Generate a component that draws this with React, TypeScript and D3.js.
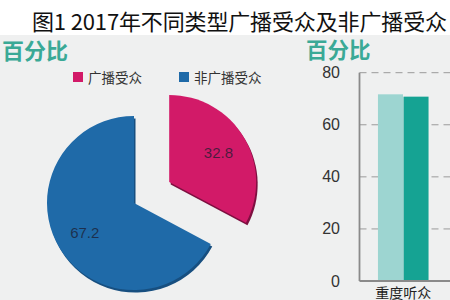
import React from "react";
import * as d3 from "d3";

const titleText = "图1 2017年不同类型广播受众及非广播受众";
const unitLabel = "百分比";
const pieCategories = ["广播受众", "非广播受众"];
const pieValues = [32.8, 67.2];
const pieColors = ["#d21a68", "#1f6aa8"];
const pieShadowColors = ["#7e0f40", "#174f80"];

const barCategories = ["重度听众"];
const barSeriesA = [71.7];
const barSeriesB = [70.8];
const barColors = ["#9dd5d1", "#15a393"];
const yTicks = [0, 20, 40, 60, 80];

const W = 450;
const H = 300;
const CJK = "'Noto Sans CJK SC', 'Noto Sans', sans-serif";
const LAT = "'Liberation Sans', Arial, sans-serif";

export default function App() {
  // Pie
  const cx = 134;
  const cy = 203;
  const r = 87;
  const pie = d3.pie<number>().sort(null).value((d) => d);
  const arcs = pie(pieValues);
  const arcGen = d3.arc<d3.PieArcDatum<number>>().innerRadius(0).outerRadius(r);
  const labelArc = d3.arc<d3.PieArcDatum<number>>().innerRadius(0).outerRadius(r * 1.32);
  const explode = [41, 0];

  // Bars
  const plotLeft = 359.5;
  const y = d3.scaleLinear().domain([0, 80]).range([281, 72.7]);
  const x0 = d3.scaleBand<string>().domain(barCategories).range([plotLeft, 447]).paddingInner(0).paddingOuter(0.365);
  const series = [barSeriesA, barSeriesB];
  const x1 = d3.scaleBand<number>().domain([0, 1]).range([0, x0.bandwidth()]).padding(0.02).paddingOuter(0);

  return (
    <svg width={W} height={H} style={{ position: "fixed", left: 0, top: 0, background: "#eff0f0" }}>
      <rect x={0} y={0} width={W} height={H} fill="#eff0f0" />
      <rect x={0} y={0} width={W} height={35} fill="#ffffff" />
      <text x={32} y={30} fontFamily={CJK} fontSize={22} fill="#111" textLength={415} lengthAdjust="spacing">
        {titleText}
      </text>
      <text x={2} y={59} fontFamily={CJK} fontWeight={700} fontSize={22} fill="#3aa996">
        {unitLabel}
      </text>
      <text x={306} y={58} fontFamily={CJK} fontWeight={700} fontSize={21.5} fill="#3aa996">
        {unitLabel}
      </text>

      {/* legend */}
      {pieCategories.map((c, i) => {
        const lx = [73, 179][i];
        return (
          <g key={c}>
            <rect x={lx} y={72} width={10} height={10} fill={pieColors[i]} />
            <text x={lx + 15} y={83} fontFamily={CJK} fontSize={13.5} fill="#333">
              {c}
            </text>
          </g>
        );
      })}

      {/* pie */}
      {arcs.map((a, i) => {
        const mid = (a.startAngle + a.endAngle) / 2;
        const dx = Math.sin(mid) * explode[i];
        const dy = -Math.cos(mid) * explode[i];
        const [lx, ly] = labelArc.centroid(a);
        return (
          <g key={i} transform={`translate(${cx + dx},${cy + dy})`}>
            <path d={arcGen(a) || ""} fill={pieShadowColors[i]} transform="translate(1.5,2.5)" />
            <path d={arcGen(a) || ""} fill={pieColors[i]} />
            <text
              x={lx}
              y={ly}
              textAnchor="middle"
              dominantBaseline="central"
              fontFamily={LAT}
              fontSize={15}
              fill="#1c1c30"
              fillOpacity={0.75}
            >
              {pieValues[i]}
            </text>
          </g>
        );
      })}

      {/* bar chart */}
      {yTicks.map((t) => (
        <g key={t}>
          {t > 0 && (
            <line
              x1={plotLeft}
              x2={W}
              y1={y(t)}
              y2={y(t)}
              stroke="#9a9a9a"
              strokeWidth={1}
              strokeDasharray="7,5"
            />
          )}
          <text x={340} y={y(t)} textAnchor="end" dominantBaseline="central" fontFamily={LAT} fontSize={16} fill="#333">
            {t}
          </text>
        </g>
      ))}
      {barCategories.map((c, ci) => (
        <g key={c} transform={`translate(${x0(c)},0)`}>
          {series.map((s, si) => (
            <rect
              key={si}
              x={x1(si)}
              y={y(s[ci])}
              width={x1.bandwidth()}
              height={y(0) - y(s[ci])}
              fill={barColors[si]}
            />
          ))}
          <text x={x0.bandwidth() / 2} y={298} textAnchor="middle" fontFamily={CJK} fontSize={14} fill="#222">
            {c}
          </text>
        </g>
      ))}
      <line x1={plotLeft} x2={plotLeft} y1={y(80)} y2={y(0)} stroke="#8a8a8a" strokeWidth={1.8} />
      <line x1={plotLeft} x2={W} y1={y(0)} y2={y(0)} stroke="#8a8a8a" strokeWidth={1.8} />
    </svg>
  );
}
